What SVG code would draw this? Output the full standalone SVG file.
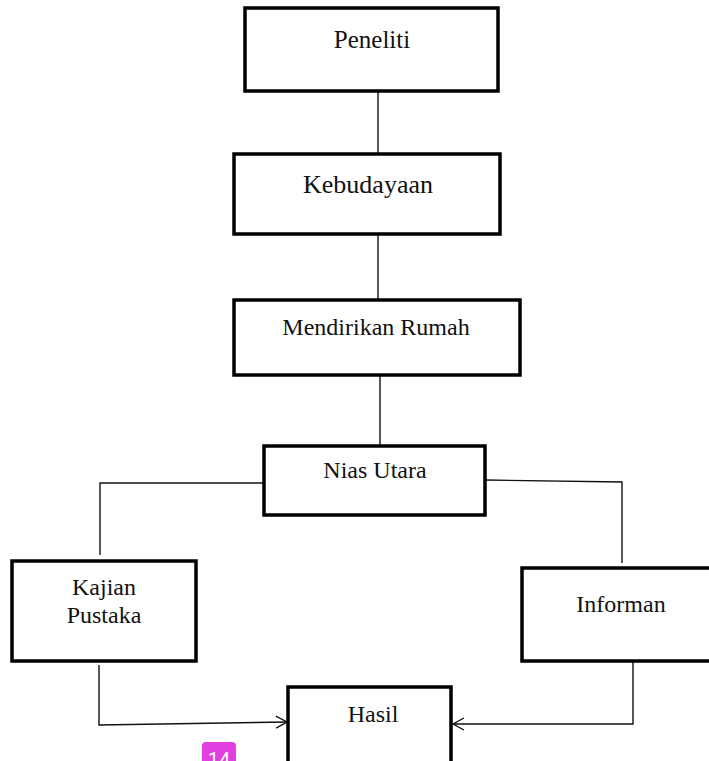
<svg xmlns="http://www.w3.org/2000/svg" width="709" height="761" viewBox="0 0 709 761">
<style>
.box{fill:#fff;stroke:#000;stroke-width:3.5}
.lbl{font-family:"Liberation Serif","Times New Roman",serif;font-size:24px;fill:#111;text-anchor:middle}
.con{fill:none;stroke:#111;stroke-width:1.4}
</style>
<defs>
<marker id="arr" markerWidth="14" markerHeight="14" refX="12" refY="7" orient="auto" markerUnits="userSpaceOnUse">
<path d="M1,1 L12,7 L1,13" fill="none" stroke="#111" stroke-width="1.4"/>
</marker>
</defs>
<rect width="709" height="761" fill="#fff"/>
<g id="connectors">
<line class="con" x1="378" y1="92" x2="378" y2="153"/>
<line class="con" x1="378" y1="234" x2="378" y2="299"/>
<line class="con" x1="380" y1="375" x2="380" y2="445"/>
<polyline class="con" points="264,483 100,483 100,555"/>
<polyline class="con" points="485,480 622,482 622,563"/>
<polyline class="con" points="99,665 99,725 287,722" marker-end="url(#arr)"/>
<polyline class="con" points="633,662 633,724 453,724" marker-end="url(#arr)"/>
</g>
<g id="peneliti">
<rect class="box" x="245" y="8" width="253" height="83"/>
<text class="lbl" x="372" y="48" style="font-size:25px">Peneliti</text>
</g>
<g id="kebudayaan">
<rect class="box" x="234" y="154" width="266" height="80"/>
<text class="lbl" x="368" y="193" style="font-size:26px">Kebudayaan</text>
</g>
<g id="mendirikan">
<rect class="box" x="234" y="300" width="286" height="75"/>
<text class="lbl" x="376" y="335">Mendirikan Rumah</text>
</g>
<g id="nias">
<rect class="box" x="264" y="446" width="221" height="69"/>
<text class="lbl" x="375" y="478">Nias Utara</text>
</g>
<g id="kajian">
<rect class="box" x="12" y="561" width="184" height="100"/>
<text class="lbl" x="104" y="595">Kajian</text>
<text class="lbl" x="104" y="623">Pustaka</text>
</g>
<g id="informan">
<rect class="box" x="522" y="568" width="192" height="93"/>
<text class="lbl" x="621" y="612">Informan</text>
</g>
<g id="hasil">
<rect class="box" x="288" y="687" width="163" height="80"/>
<text class="lbl" x="373" y="722">Hasil</text>
</g>
<g id="badge">
<rect x="202" y="742" width="34" height="26" rx="4" fill="#e23fe0"/>
<text x="219" y="767" font-family="Roboto, 'Liberation Sans', sans-serif" font-size="20" fill="#fff" text-anchor="middle">14</text>
</g>
</svg>
